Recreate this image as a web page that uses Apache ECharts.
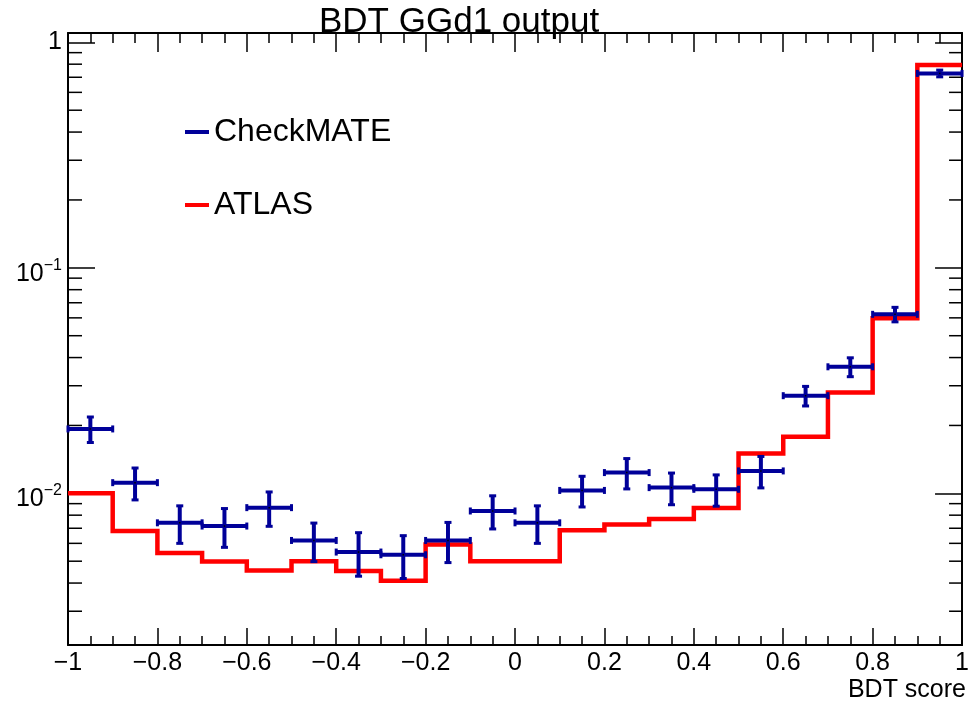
<!DOCTYPE html>
<html>
<head>
<meta charset="utf-8">
<script src="https://cdn.jsdelivr.net/npm/echarts@6/dist/echarts.min.js"></script>
<style>
html, body { margin: 0; padding: 0; background: #ffffff; }
#chart { width: 972px; height: 703px; }
</style>
</head>
<body>
<div id="chart"></div>
<script>
// Histogram binning of the BDT score
const binEdges = [-1, -0.9, -0.8, -0.7, -0.6, -0.5, -0.4, -0.3, -0.2, -0.1, 0,
                  0.1, 0.2, 0.3, 0.4, 0.5, 0.6, 0.7, 0.8, 0.9, 1];

// ATLAS reference distribution (normalised)
const atlasValues = [0.0100, 0.0068, 0.00543, 0.00499, 0.00455, 0.0050, 0.00452, 0.0041, 0.00593, 0.0050,
                     0.0050, 0.00685, 0.00728, 0.00769, 0.00861, 0.0150, 0.0178, 0.0280, 0.0597, 0.793];

// CheckMATE distribution with statistical uncertainties
const checkmateValues = [0.0193, 0.01115, 0.0074, 0.00716, 0.00864, 0.00618, 0.00549, 0.00534, 0.00618, 0.00835,
                         0.0074, 0.0103, 0.01236, 0.0106, 0.01042, 0.01257, 0.0271, 0.0364, 0.0622, 0.728];
const checkmateErrors = [0.0025, 0.0018, 0.0014, 0.0014, 0.0015, 0.0012, 0.0012, 0.00115, 0.00125, 0.0014,
                         0.0014, 0.0016, 0.0019, 0.0017, 0.00165, 0.0020, 0.0027, 0.0035, 0.0046, 0.025];

// Axis ranges and tick marks
const xRange = [-1, 1];
const yRange = [0.002125, 1.1];
const yMajorTicks = [0.01, 0.1, 1];
const yMajorLabels = ['{b|10}{s|\u22122}', '{b|10}{s|\u22121}', '1'];
const yMinorTicks = [0.003, 0.004, 0.005, 0.006, 0.007, 0.008, 0.009,
                     0.02, 0.03, 0.04, 0.05, 0.06, 0.07, 0.08, 0.09,
                     0.2, 0.3, 0.4, 0.5, 0.6, 0.7, 0.8, 0.9];

const FONT = '"Liberation Sans", Arial, Helvetica, sans-serif';
const BLUE = '#000099';
const RED = '#ff0000';

const atlasSteps = atlasValues.map((v, i) => [binEdges[i], v]);
atlasSteps.push([binEdges[binEdges.length - 1], atlasValues[atlasValues.length - 1]]);

const checkmateRows = checkmateValues.map((v, i) => [
  (binEdges[i] + binEdges[i + 1]) / 2, v, checkmateErrors[i], (binEdges[i + 1] - binEdges[i]) / 2
]);

function xLabel(v) {
  const r = Math.round(v * 10) / 10;
  if (r === 0) return '0';
  return (r < 0 ? '\u2212' : '') + String(Math.abs(r));
}

function yLabel(v) {
  for (let i = 0; i < yMajorTicks.length; i++) {
    if (Math.abs(Math.log10(v) - Math.log10(yMajorTicks[i])) < 1e-6) return yMajorLabels[i];
  }
  return '';
}

const xAxisBase = {
  type: 'value', min: xRange[0], max: xRange[1], interval: 0.2,
  axisLine: { show: true, onZero: false, lineStyle: { color: '#000', width: 2 } },
  splitLine: { show: false }
};

const yAxisBase = {
  type: 'log', logBase: 10, min: yRange[0], max: yRange[1],
  axisLine: { show: true, onZero: false, lineStyle: { color: '#000', width: 2 } },
  splitLine: { show: false },
  minorTick: { show: false }
};

const chart = echarts.init(document.getElementById('chart'), null, { renderer: 'canvas' });

chart.setOption({
  animation: false,
  backgroundColor: '#ffffff',
  title: [
    { text: 'BDT GGd1 output', left: 319, top: 5, padding: 0,
      textStyle: { fontFamily: FONT, fontSize: 35, fontWeight: 'normal', color: '#000' } },
    { text: 'BDT score', right: 6, top: 678, padding: 0,
      textStyle: { fontFamily: FONT, fontSize: 25, fontWeight: 'normal', color: '#000' } }
  ],
  legend: {
    orient: 'vertical', left: 185, top: 116, padding: 0,
    itemWidth: 24, itemHeight: 4, itemGap: 41, icon: 'rect',
    textStyle: { fontFamily: FONT, fontSize: 32, color: '#000' },
    data: ['CheckMATE', 'ATLAS'],
    selectedMode: false
  },
  grid: { left: 68, right: 6, top: 33, bottom: 58, containLabel: false },
  xAxis: [
    Object.assign({}, xAxisBase, {
      position: 'bottom',
      axisTick: { show: true, inside: true, length: 17, lineStyle: { color: '#000', width: 1.5 } },
      minorTick: { show: true, splitNumber: 4, length: 9, lineStyle: { color: '#000', width: 1.5 } },
      axisLabel: { show: true, margin: 6, formatter: xLabel, fontFamily: FONT, fontSize: 25, color: '#000' }
    }),
    Object.assign({}, xAxisBase, {
      position: 'top',
      axisTick: { show: true, inside: true, length: 19, lineStyle: { color: '#000', width: 1.5 } },
      minorTick: { show: true, splitNumber: 4, length: 10, lineStyle: { color: '#000', width: 1.5 } },
      axisLabel: { show: false }
    })
  ],
  yAxis: [
    Object.assign({}, yAxisBase, {
      position: 'left',
      axisTick: { show: true, inside: true, length: 27, lineStyle: { color: '#000', width: 1.5 } },
      axisLabel: {
        show: true, margin: 6, formatter: yLabel, showMinLabel: false, showMaxLabel: false,
        fontFamily: FONT, fontSize: 25, color: '#000',
        rich: {
          b: { fontFamily: FONT, fontSize: 25, color: '#000', padding: [12, 0, 0, 0], verticalAlign: 'middle' },
          s: { fontFamily: FONT, fontSize: 16, color: '#000', padding: [0, 0, 5, 0], verticalAlign: 'middle' }
        }
      }
    }),
    Object.assign({}, yAxisBase, {
      position: 'right',
      axisTick: { show: true, inside: true, length: 27, lineStyle: { color: '#000', width: 1.5 } },
      axisLabel: { show: false }
    })
  ],
  series: [
    {
      // logarithmic minor ticks on both vertical axes
      type: 'custom', name: 'yMinor', silent: true, clip: false, z: 1,
      xAxisIndex: 0, yAxisIndex: 0,
      data: yMinorTicks.map(v => [xRange[0], v]),
      renderItem: function (params, api) {
        const v = api.value(1);
        const l = api.coord([xRange[0], v]);
        const r = api.coord([xRange[1], v]);
        const st = { stroke: '#000', lineWidth: 1.5 };
        return {
          type: 'group',
          children: [
            { type: 'line', shape: { x1: l[0], y1: l[1], x2: l[0] + 14, y2: l[1] }, style: st },
            { type: 'line', shape: { x1: r[0], y1: r[1], x2: r[0] - 13, y2: r[1] }, style: st }
          ]
        };
      }
    },
    {
      name: 'ATLAS', type: 'line', step: 'end', symbol: 'none', z: 3,
      xAxisIndex: 0, yAxisIndex: 0,
      itemStyle: { color: RED },
      lineStyle: { color: RED, width: 4.5, join: 'miter' },
      data: atlasSteps
    },
    {
      name: 'CheckMATE', type: 'custom', clip: false, z: 4,
      xAxisIndex: 0, yAxisIndex: 0,
      itemStyle: { color: BLUE },
      data: checkmateRows,
      renderItem: function (params, api) {
        const c = api.value(0), v = api.value(1), e = api.value(2), hw = api.value(3);
        const L = api.coord([c - hw, v]);
        const R = api.coord([c + hw, v]);
        const T = api.coord([c, v + e]);
        const B = api.coord([c, v - e]);
        const st = { stroke: BLUE, lineWidth: 4 };
        const fill = { fill: BLUE };
        return {
          type: 'group',
          children: [
            { type: 'line', shape: { x1: L[0], y1: L[1], x2: R[0], y2: R[1] }, style: st },
            { type: 'line', shape: { x1: T[0], y1: T[1], x2: B[0], y2: B[1] }, style: st },
            { type: 'rect', shape: { x: T[0] - 3.5, y: T[1] - 1.5, width: 7, height: 3 }, style: fill },
            { type: 'rect', shape: { x: B[0] - 3.5, y: B[1] - 1.5, width: 7, height: 3 }, style: fill },
            { type: 'rect', shape: { x: L[0] - 1.5, y: L[1] - 3.5, width: 3, height: 7 }, style: fill },
            { type: 'rect', shape: { x: R[0] - 1.5, y: R[1] - 3.5, width: 3, height: 7 }, style: fill },
            { type: 'rect', shape: { x: T[0] - 0.75, y: L[1] - 0.75, width: 1.5, height: 1.5 }, style: { fill: '#000' } }
          ]
        };
      }
    }
  ]
});
</script>
</body>
</html>
